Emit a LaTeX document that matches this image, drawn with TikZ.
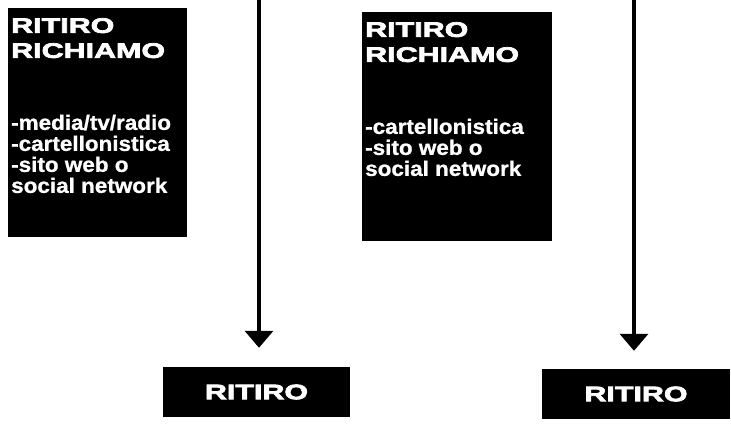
\documentclass[tikz,border=0pt]{standalone}
\usepackage{fontspec}
\setmainfont{Liberation Sans}
\newfontfamily\headfont[FakeStretch=1.45,FakeBold=3.5]{Liberation Sans}
\newfontfamily\listfont[FakeStretch=1.07,FakeBold=1]{Liberation Sans}
\usetikzlibrary{arrows.meta}

\begin{document}
\begin{tikzpicture}[x=1pt,y=-1pt,
	infobox/.style={fill=black,text=white,inner xsep=3pt,inner ysep=0pt,anchor=north west},
	endbox/.style={fill=black,text=white,minimum width=187pt,minimum height=50pt,
		font=\headfont\bfseries\fontsize{21}{21}\selectfont},
	flow/.style={line width=3.5pt,-{Triangle[width=28pt,length=17pt]}}]
	\def\headtxt{\headfont\bfseries\fontsize{21}{25}\selectfont}
	\def\listtxt{\listfont\bfseries\fontsize{21}{21}\selectfont}

	\useasboundingbox (0,0) rectangle (731,436);

	% boxes on top
	\node[infobox] (recall1) at (8,8) {\parbox[t][229pt][t]{173pt}{\vspace*{10pt}%
		{\headtxt RITIRO\\RICHIAMO\par}\vspace{51pt}%
		{\listtxt -media/tv/radio\\-cartellonistica\\-sito web o\\social network\par}}};
	\node[infobox] (recall2) at (362,12) {\parbox[t][229pt][t]{184pt}{\vspace*{10pt}%
		{\headtxt RITIRO\\RICHIAMO\par}\vspace{51pt}%
		{\listtxt -cartellonistica\\-sito web o\\social network\par}}};

	% boxes at the bottom
	\node[endbox] (ret1) at (256.5,392) {RITIRO};
	\node[endbox, minimum width=188pt] (ret2) at (636,394) {RITIRO};

	\coordinate (top1) at (259,0);
	\coordinate (top2) at (634,0);

	\begin{scope}[flow]
		\draw[shorten >=19pt] (top1) -- (top1 |- ret1.north);
		\draw[shorten >=18pt] (top2) -- (top2 |- ret2.north);
	\end{scope}
\end{tikzpicture}
\end{document}
